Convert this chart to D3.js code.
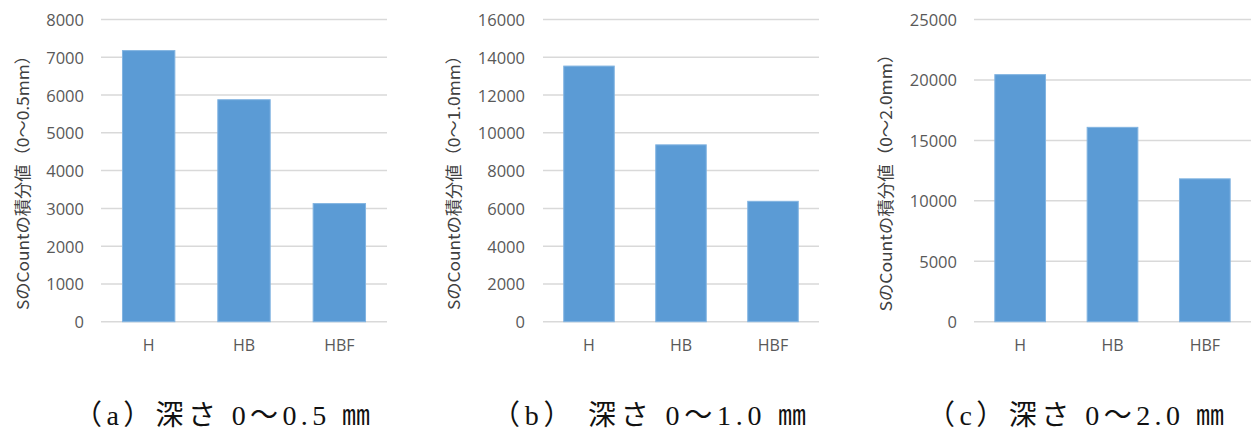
<!DOCTYPE html>
<html>
<head>
<meta charset="utf-8">
<script src="https://cdn.jsdelivr.net/npm/d3@7"></script>
<style>
  html, body { margin: 0; padding: 0; background: #ffffff; }
  svg { display: block; }
</style>
</head>
<body>
<svg id="chart" width="1252" height="432"></svg>
<script>
// Categories shared by the three panels
const categories = ["H", "HB", "HBF"];

// Integrated count of S for each depth range
const valuesA = [7190, 5890, 3140];
const valuesB = [13560, 9390, 6400];
const valuesC = [20480, 16120, 11860];

// Axis maxima and tick steps
const axisMax = [8000, 16000, 25000];
const tickStep = [1000, 2000, 5000];

// Axis titles and captions
const yTitles = ["SのCountの積分値（0～0.5mm）", "SのCountの積分値（0～1.0mm）", "SのCountの積分値（0～2.0mm）"];
const captions = ["（a）深さ 0～0.5 ㎜", "（b） 深さ 0～1.0 ㎜", "（c）深さ 0～2.0 ㎜"];

const seriesList = [valuesA, valuesB, valuesC];

// Panel geometry
const layout = [
  { x0: 101, x1: 387, tickGap: 17, titleX: 22, titleLen: 263, capX: 74, capW: 296 },
  { x0: 543, x1: 819, tickGap: 18, titleX: 453, titleLen: 263, capX: 492, capW: 314 },
  { x0: 974, x1: 1251, tickGap: 17, titleX: 885, titleLen: 266, capX: 927, capW: 297 }
];
const yTop = 19.5, yBottom = 321.7;

const svg = d3.select("#chart");

layout.forEach((L, i) => {
  const values = seriesList[i];
  const g = svg.append("g");

  const x = d3.scaleBand()
    .domain(categories)
    .range([L.x0, L.x1])
    .paddingInner(0.44)
    .paddingOuter(0.22);

  const y = d3.scaleLinear()
    .domain([0, axisMax[i]])
    .range([yBottom, yTop]);

  const ticks = d3.range(0, axisMax[i] + 1, tickStep[i]);

  // Horizontal gridlines
  g.append("g")
    .selectAll("line")
    .data(ticks)
    .join("line")
    .attr("x1", L.x0)
    .attr("x2", L.x1)
    .attr("y1", d => y(d))
    .attr("y2", d => y(d))
    .attr("stroke", "#d9d9d9")
    .attr("stroke-width", 1.5);

  // Value axis labels
  const yAxis = d3.axisLeft(y).tickValues(ticks).tickSize(0).tickPadding(L.tickGap).tickFormat(d3.format("d"));
  const ya = g.append("g")
    .attr("transform", `translate(${L.x0},0)`)
    .call(yAxis);
  ya.select(".domain").remove();
  ya.selectAll("text")
    .attr("font-family", "'Open Sans', sans-serif")
    .attr("font-size", 16.5)
    .attr("fill", "#595959")
    .attr("dy", "0.36em");

  // Bars
  g.append("g")
    .selectAll("rect")
    .data(values)
    .join("rect")
    .attr("x", (d, j) => x(categories[j]) + 0.5)
    .attr("y", d => y(d) + 0.5)
    .attr("width", x.bandwidth() - 1)
    .attr("height", d => yBottom - y(d) - 0.5)
    .attr("fill", "#5b9bd5")
    .attr("stroke", "#82b4e1")
    .attr("stroke-width", 1);

  // Category labels
  const xAxis = d3.axisBottom(x).tickSize(0).tickPadding(18);
  const xa = g.append("g")
    .attr("transform", `translate(0,${yBottom})`)
    .call(xAxis);
  xa.select(".domain").remove();
  xa.selectAll("text")
    .attr("font-family", "'Open Sans', sans-serif")
    .attr("font-size", 16)
    .attr("fill", "#595959");

  // Vertical axis title
  g.append("text")
    .attr("transform", `translate(${L.titleX},${(yTop + yBottom) / 2 + 8}) rotate(-90)`)
    .attr("text-anchor", "middle")
    .attr("dominant-baseline", "central")
    .attr("font-family", "'Noto Sans CJK JP', sans-serif")
    .attr("font-size", 16.5)
    .attr("fill", "#404040")
    .attr("textLength", L.titleLen)
    .attr("lengthAdjust", "spacingAndGlyphs")
    .text(yTitles[i]);

  // Caption below the panel
  g.append("text")
    .attr("x", L.capX)
    .attr("y", 425)
    .attr("font-family", "'Liberation Serif', 'Noto Sans CJK JP', serif")
    .attr("font-size", 28)
    .attr("fill", "#111111")
    .attr("textLength", L.capW)
    .attr("lengthAdjust", "spacing")
    .text(captions[i]);
});
</script>
</body>
</html>
